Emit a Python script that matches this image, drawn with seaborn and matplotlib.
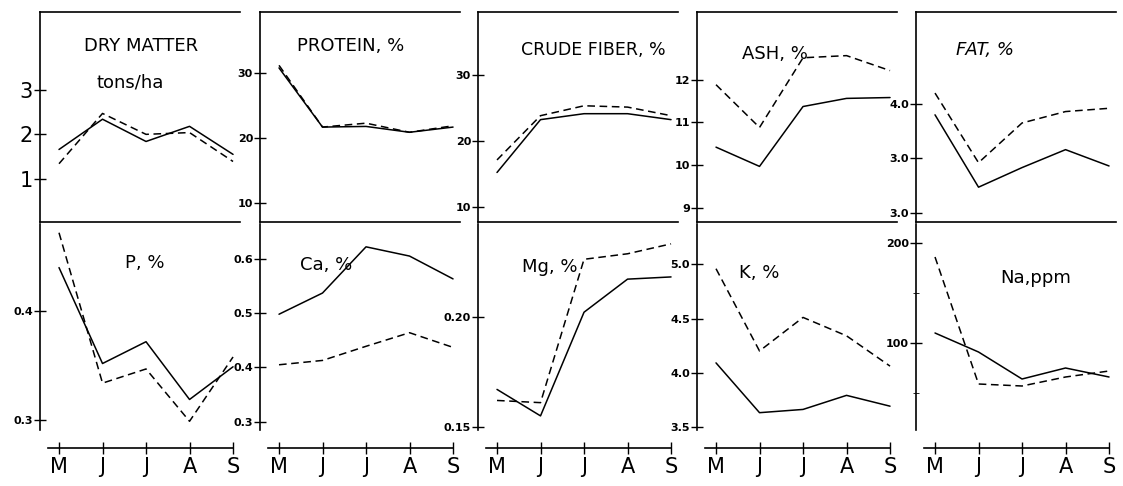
import matplotlib
matplotlib.use("Agg")
import matplotlib.pyplot as plt
import seaborn as sns

# months along the x axis (May .. September)
months = ["M", "J", "J", "A", "S"]
month_pos = [0, 1, 2, 3, 4]

# top row
dry_solid = [1.66, 2.34, 1.84, 2.18, 1.55]
dry_dashed = [1.34, 2.47, 2.00, 2.04, 1.39]
protein_solid = [30.8, 21.7, 21.8, 20.9, 21.7]
protein_dashed = [31.2, 21.7, 22.3, 20.9, 21.9]
fiber_solid = [15.2, 23.2, 24.1, 24.1, 23.2]
fiber_dashed = [17.1, 23.8, 25.3, 25.1, 23.8]
ash_solid = [10.42, 9.97, 11.37, 11.56, 11.58]
ash_dashed = [11.88, 10.88, 12.51, 12.56, 12.21]
fat_solid = [3.80, 2.47, 2.83, 3.16, 2.86]
fat_dashed = [4.20, 2.92, 3.65, 3.86, 3.92]

# bottom row
p_solid = [0.440, 0.352, 0.372, 0.319, 0.349]
p_dashed = [0.472, 0.334, 0.347, 0.299, 0.358]
ca_solid = [0.498, 0.537, 0.622, 0.605, 0.563]
ca_dashed = [0.405, 0.413, 0.439, 0.464, 0.437]
mg_solid = [0.167, 0.155, 0.202, 0.217, 0.218]
mg_dashed = [0.162, 0.161, 0.226, 0.2285, 0.233]
k_solid = [4.09, 3.63, 3.66, 3.79, 3.69]
k_dashed = [4.96, 4.20, 4.51, 4.34, 4.06]
na_solid = [110, 91, 64, 75, 66]
na_dashed = [186, 59, 57, 66, 72]

# titles, ticks
top_titles = ["DRY MATTER", "PROTEIN, %", "CRUDE FIBER, %", "ASH, %", "FAT, %"]
bottom_titles = ["P, %", "Ca, %", "Mg, %", "K, %", "Na,ppm"]
top_ticks = [[1, 2, 3], [10, 20, 30], [10, 20, 30], [9, 10, 11, 12], [2, 3, 4]]
top_ticklabels = [["1", "2", "3"], ["10", "20", "30"], ["10", "20", "30"],
                  ["9", "10", "11", "12"], ["3.0", "3.0", "4.0"]]
bottom_ticks = [[0.3, 0.4], [0.3, 0.4, 0.5, 0.6], [0.15, 0.20],
                [3.5, 4.0, 4.5, 5.0], [100, 200]]
bottom_ticklabels = [["0.3", "0.4"], ["0.3", "0.4", "0.5", "0.6"], ["0.15", "0.20"],
                     ["3.5", "4.0", "4.5", "5.0"], ["100", "200"]]

top_series = [(dry_solid, dry_dashed), (protein_solid, protein_dashed),
              (fiber_solid, fiber_dashed), (ash_solid, ash_dashed),
              (fat_solid, fat_dashed)]
bottom_series = [(p_solid, p_dashed), (ca_solid, ca_dashed), (mg_solid, mg_dashed),
                 (k_solid, k_dashed), (na_solid, na_dashed)]

top_ylim = [(0.03, 4.75), (7.1, 39.4), (7.7, 39.5), (8.67, 13.58), (1.83, 5.69)]
bottom_ylim = [(0.291, 0.48), (0.285, 0.664), (0.1486, 0.242), (3.47, 5.373), (13, 219)]

sns.set_style("ticks", {'axes.edgecolor': 'black', 'text.color': 'black',
                        'xtick.color': 'black', 'ytick.color': 'black',
                        'axes.labelcolor': 'black'})
plt.rcParams['font.family'] = ['DejaVu Sans']

W, H = 1123, 486
fig = plt.figure(figsize=(W / 100, H / 100), dpi=100)
col_left = [40, 260, 478, 697, 916]
xlim = (-0.437, 4.16)


def add_panel(left, top, bottom):
    return fig.add_axes([left / W, (H - bottom) / H, 200 / W, (bottom - top) / H])


def draw_lines(ax, solid, dashed):
    sns.lineplot(x=month_pos, y=solid, ax=ax, color='black', lw=1.1)
    sns.lineplot(x=month_pos, y=dashed, ax=ax, color='black', lw=1.1,
                 linestyle=(0, (5, 3)))


def style_y(ax, ticks, labels, size=8):
    ax.set_yticks(ticks)
    ax.set_yticklabels(labels, fontsize=size, fontweight='bold' if size < 10 else 'normal')
    ax.tick_params(axis='y', direction='inout', length=8, width=1, pad=1)
    for s in ax.spines.values():
        s.set_linewidth(1.2)


# top row
for i in range(5):
    ax = add_panel(col_left[i], 12, 222)
    draw_lines(ax, *top_series[i])
    ax.set_xlim(*xlim)
    ax.set_ylim(*top_ylim[i])
    ax.set_xticks([])
    ax.spines['right'].set_visible(False)
    style_y(ax, top_ticks[i], top_ticklabels[i], size=15 if i == 0 else 8)
    ax.set_xlabel('')
    ax.set_ylabel('')

    if i == 0:
        ax.text(0.505, 0.836, "DRY MATTER", transform=ax.transAxes,
                ha='center', va='center', fontsize=13)
        ax.text(0.45, 0.664, "tons/ha", transform=ax.transAxes,
                ha='center', va='center', fontsize=13)
    else:
        tx = [None, 0.455, 0.575, 0.39, 0.345][i]
        ty = [None, 0.84, 0.82, 0.80, 0.82][i]
        ax.text(tx, ty, top_titles[i], transform=ax.transAxes, ha='center',
                va='center', fontsize=13 if i != 2 else 12.5,
                fontstyle='italic' if i == 4 else 'normal')

# bottom row
btx = [0.525, 0.33, 0.36, 0.31, 0.6]
bty = [0.81, 0.80, 0.79, 0.76, 0.74]
for i in range(5):
    ax = add_panel(col_left[i], 224, 430)
    draw_lines(ax, *bottom_series[i])
    ax.set_xlim(*xlim)
    ax.set_ylim(*bottom_ylim[i])
    ax.spines['right'].set_visible(False)
    ax.spines['top'].set_visible(False)
    ax.spines['bottom'].set_position(('outward', 13))
    ax.spines['bottom'].set_bounds(-0.25, 4)
    style_y(ax, bottom_ticks[i], bottom_ticklabels[i])
    if i == 4:
        ax.set_yticks([50, 150], minor=True)
        ax.tick_params(axis='y', which='minor', direction='inout', length=4)
    ax.set_xticks(month_pos)
    ax.set_xticklabels(months, fontsize=15)
    ax.tick_params(axis='x', direction='inout', length=9, width=1, pad=2)
    ax.set_xlabel('')
    ax.set_ylabel('')
    ax.text(btx[i], bty[i], bottom_titles[i], transform=ax.transAxes,
            ha='center', va='center', fontsize=13)

fig.savefig("out.png", dpi=100, facecolor='white')
